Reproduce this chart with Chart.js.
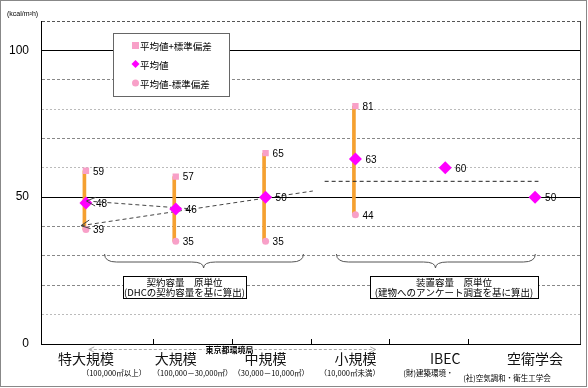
<!DOCTYPE html>
<html>
<head>
<meta charset="utf-8">
<script src="https://cdn.jsdelivr.net/npm/chart.js@4.4.0/dist/chart.umd.min.js"></script>
<style>
  html, body { margin: 0; padding: 0; background: #fff; }
  #wrap { width: 588px; height: 388px; position: relative; }
</style>
</head>
<body>
<div id="wrap"><canvas id="myChart"></canvas></div>
<script>
var categories = ["特大規模", "大規模", "中規模", "小規模", "IBEC", "空衛学会"];
var subLabels = ["（100,000㎡以上）", "（100,000－30,000㎡）", "（30,000－10,000㎡）", "（10,000㎡未満）", "(財)建築環境・", "(社)空気調和・衛生工学会"];
var meanValues = [48, 46, 50, 63, 60, 50];
var upperValues = [59, 57, 65, 81, null, null];
var lowerValues = [39, 35, 35, 44, null, null];
var legendLabels = ["平均値+標準偏差", "平均値", "平均値-標準偏差"];
var yTickLabels = [0, 50, 100];

// dashed trend lines, x in category units
var trendA = [{x: -0.35, y: 48.7}, {x: 1, y: 46}];
var trendB = [{x: -0.42, y: 40.3}, {x: 2.53, y: 52.1}];
var levelLine = [{x: 2.68, y: 55.4}, {x: 5.4, y: 55.4}];

var noteLeft = ["契約容量　原単位", "(DHCの契約容量を基に算出)"];
var noteRight = ["装置容量　原単位", "(建物へのアンケート調査を基に算出)"];
var sourceLabel = "東京都環境局";
var unitLabel = "(kcal/m²h)";

var pink = "#f8a0c8";
var magenta = "#ff00ff";
var orange = "#f5a030";
var jp = "'Noto Sans CJK JP', sans-serif";

var ranges = lowerValues.map(function (v, i) {
  return v == null ? null : [v, upperValues[i]];
});

function arrowHead(c, tip, from, len) {
  var ang = Math.atan2(from.y - tip.y, from.x - tip.x);
  c.beginPath();
  c.moveTo(tip.x + len * Math.cos(ang - 0.45), tip.y + len * Math.sin(ang - 0.45));
  c.lineTo(tip.x, tip.y);
  c.lineTo(tip.x + len * Math.cos(ang + 0.45), tip.y + len * Math.sin(ang + 0.45));
  c.stroke();
}

function brace(c, xa, xb, xm, top) {
  var d = 8;
  c.beginPath();
  c.moveTo(xa, top);
  c.quadraticCurveTo(xa, top + d, xa + 12, top + d);
  c.lineTo(xm - 12, top + d);
  c.quadraticCurveTo(xm, top + d, xm, top + d + 6);
  c.quadraticCurveTo(xm, top + d, xm + 12, top + d);
  c.lineTo(xb - 12, top + d);
  c.quadraticCurveTo(xb, top + d, xb, top);
  c.stroke();
}

function noteBox(c, lines, x0, x1, top) {
  c.fillStyle = "#fff";
  c.fillRect(x0, top, x1 - x0, 22);
  c.strokeStyle = "#000";
  c.lineWidth = 1;
  c.setLineDash([]);
  c.strokeRect(x0 + 0.5, top + 0.5, x1 - x0, 22);
  c.fillStyle = "#000";
  c.font = "9.5px " + jp;
  c.textAlign = "center";
  c.textBaseline = "middle";
  c.fillText(lines[0], (x0 + x1) / 2, top + 6.5);
  c.fillText(lines[1], (x0 + x1) / 2, top + 16.5);
}

var extras = {
  id: "extras",
  afterDraw: function (chart) {
    var c = chart.ctx, a = chart.chartArea;
    var x2 = chart.scales.x2, y = chart.scales.y;
    c.save();

    // right edge of plot
    c.strokeStyle = "#444";
    c.lineWidth = 1;
    c.beginPath();
    c.moveTo(a.right + 0.5, a.top);
    c.lineTo(a.right + 0.5, a.bottom);
    c.stroke();

    // small inward ticks between categories
    c.strokeStyle = "#000";
    for (var k = 0; k < categories.length - 1; k++) {
      var tx = Math.round(x2.getPixelForValue(k + 0.5)) + 0.5;
      c.beginPath();
      c.moveTo(tx, a.bottom - 5);
      c.lineTo(tx, a.bottom);
      c.stroke();
    }

    // arrowheads on trend lines
    c.strokeStyle = "#444";
    [trendA, trendB].forEach(function (t) {
      var p0 = {x: x2.getPixelForValue(t[0].x), y: y.getPixelForValue(t[0].y)};
      var p1 = {x: x2.getPixelForValue(t[1].x), y: y.getPixelForValue(t[1].y)};
      arrowHead(c, p0, p1, 10);
    });

    // value labels
    c.fillStyle = "#000";
    c.font = "10px 'Liberation Sans', sans-serif";
    c.textAlign = "left";
    c.textBaseline = "middle";
    [[2, upperValues, 7], [1, meanValues, 10], [3, lowerValues, 7]].forEach(function (s) {
      var meta = chart.getDatasetMeta(s[0]);
      s[1].forEach(function (v, i) {
        if (v == null) return;
        var el = meta.data[i];
        c.fillText(String(v), el.x + s[2], el.y + 1);
      });
    });

    // braces
    c.strokeStyle = "#555";
    c.lineWidth = 1;
    brace(c, x2.getPixelForValue(-0.12), x2.getPixelForValue(2.41), x2.getPixelForValue(1.14), 254);
    brace(c, x2.getPixelForValue(2.83), x2.getPixelForValue(5.36), x2.getPixelForValue(4.09), 254);

    noteBox(c, noteLeft, 123, 246, 276);
    noteBox(c, noteRight, 370, 538, 276);

    // legend box
    c.fillStyle = "#fff";
    c.fillRect(113, 33, 116, 63);
    c.strokeStyle = "#666";
    c.strokeRect(113.5, 33.5, 116, 63);
    var ly = [45, 64, 83];
    c.font = "9.5px " + jp;
    c.textAlign = "left";
    c.textBaseline = "middle";
    c.fillStyle = pink;
    c.fillRect(132, 42, 7, 7);
    c.fillStyle = magenta;
    c.beginPath();
    c.moveTo(135.5, ly[1] - 4); c.lineTo(139.5, ly[1]); c.lineTo(135.5, ly[1] + 4); c.lineTo(131.5, ly[1]);
    c.closePath(); c.fill();
    c.fillStyle = pink;
    c.beginPath(); c.arc(135.5, ly[2], 3.5, 0, Math.PI * 2); c.fill();
    c.fillStyle = "#000";
    legendLabels.forEach(function (t, i) { c.fillText(t, 140, ly[i] + 1); });

    // bottom arrow for Tokyo data
    var ay = a.bottom + 5.5;
    var axa = x2.getPixelForValue(-0.32), axb = x2.getPixelForValue(3.33);
    c.strokeStyle = "#aaa";
    c.setLineDash([3, 2]);
    c.beginPath(); c.moveTo(axa, ay); c.lineTo(axb, ay); c.stroke();
    c.setLineDash([]);
    arrowHead(c, {x: axa, y: ay}, {x: axb, y: ay}, 6);
    arrowHead(c, {x: axb, y: ay}, {x: axa, y: ay}, 6);
    c.font = "bold 8px " + jp;
    c.textAlign = "center";
    var sx = x2.getPixelForValue(1.47);
    var sw = c.measureText(sourceLabel).width;
    c.fillStyle = "#fff";
    c.fillRect(sx - sw / 2 - 1, ay - 4, sw + 2, 8);
    c.fillStyle = "#000";
    c.fillText(sourceLabel, sx, ay);

    // sub labels under categories
    c.font = "7.5px " + jp;
    subLabels.forEach(function (t, i) {
      c.fillText(t, x2.getPixelForValue(i), i === 5 ? 378 : 373);
    });

    // unit
    c.font = "7px 'Liberation Sans', sans-serif";
    c.textAlign = "left";
    c.fillText(unitLabel, 7, 14);

    // outer frame
    c.strokeStyle = "#888";
    c.lineWidth = 1;
    c.strokeRect(0.5, 0.5, 586, 386);

    c.restore();
  }
};

new Chart("myChart", {
  type: "bar",
  data: {
    labels: categories,
    datasets: [{
      label: "range",
      data: ranges,
      backgroundColor: orange,
      barThickness: 3,
      order: 6
    }, {
      type: "line",
      label: legendLabels[1],
      data: meanValues,
      showLine: false,
      pointStyle: "rectRot",
      pointRadius: 6.5,
      pointBackgroundColor: magenta,
      pointBorderColor: magenta,
      pointBorderWidth: 0,
      order: 1
    }, {
      type: "line",
      label: legendLabels[0],
      data: upperValues,
      showLine: false,
      pointStyle: "rect",
      pointRadius: 4.5,
      pointBackgroundColor: pink,
      pointBorderColor: pink,
      pointBorderWidth: 0,
      order: 2
    }, {
      type: "line",
      label: legendLabels[2],
      data: lowerValues,
      showLine: false,
      pointStyle: "circle",
      pointRadius: 3.5,
      pointBackgroundColor: pink,
      pointBorderColor: pink,
      pointBorderWidth: 0,
      order: 3
    }, {
      type: "line",
      xAxisID: "x2",
      data: trendA,
      borderColor: "#444",
      borderWidth: 1,
      borderDash: [4, 3],
      pointRadius: 0,
      order: 4
    }, {
      type: "line",
      xAxisID: "x2",
      data: trendB,
      borderColor: "#444",
      borderWidth: 1,
      borderDash: [4, 3],
      pointRadius: 0,
      order: 4
    }, {
      type: "line",
      xAxisID: "x2",
      data: levelLine,
      borderColor: "#222",
      borderWidth: 1,
      borderDash: [4, 3],
      pointRadius: 0,
      order: 4
    }]
  },
  options: {
    responsive: true,
    maintainAspectRatio: false,
    animation: false,
    layout: { padding: { left: 0, right: 8, top: 21, bottom: 0 } },
    plugins: {
      legend: { display: false },
      tooltip: { enabled: false }
    },
    scales: {
      x: {
        type: "category",
        offset: true,
        grid: { drawOnChartArea: false, drawTicks: false },
        border: { display: true, color: "#000", width: 1 },
        ticks: {
          padding: 6,
          color: "#111",
          font: { family: "'Noto Sans CJK JP'", size: 14 }
        },
        afterFit: function (scale) { scale.height = 44; }
      },
      x2: {
        type: "linear",
        display: false,
        min: -0.5,
        max: 5.5
      },
      y: {
        min: 0,
        max: 110,
        ticks: {
          stepSize: 10,
          padding: 12,
          color: "#000",
          font: { family: "'Liberation Sans'", size: 12 },
          callback: function (v) { return yTickLabels.indexOf(v) >= 0 ? v : ""; }
        },
        grid: {
          drawTicks: false,
          color: function (ctx) {
            if (!ctx.tick) return "#000";
            var v = ctx.tick.value;
            if (v % 50 === 0) return "#000";
            if (v === 110) return "#555";
            return (v === 80 || v === 60 || v === 10) ? "#bbb" : "#888";
          }
        },
        border: {
          display: true,
          color: "#000",
          dash: function (ctx) {
            if (!ctx.tick) return [];
            var v = ctx.tick.value;
            if (v % 50 === 0) return [];
            return (v === 80 || v === 60 || v === 10) ? [2, 2] : [3, 2];
          }
        },
        afterFit: function (scale) { scale.width = 41; }
      }
    }
  },
  plugins: [extras]
});
</script>
</body>
</html>
